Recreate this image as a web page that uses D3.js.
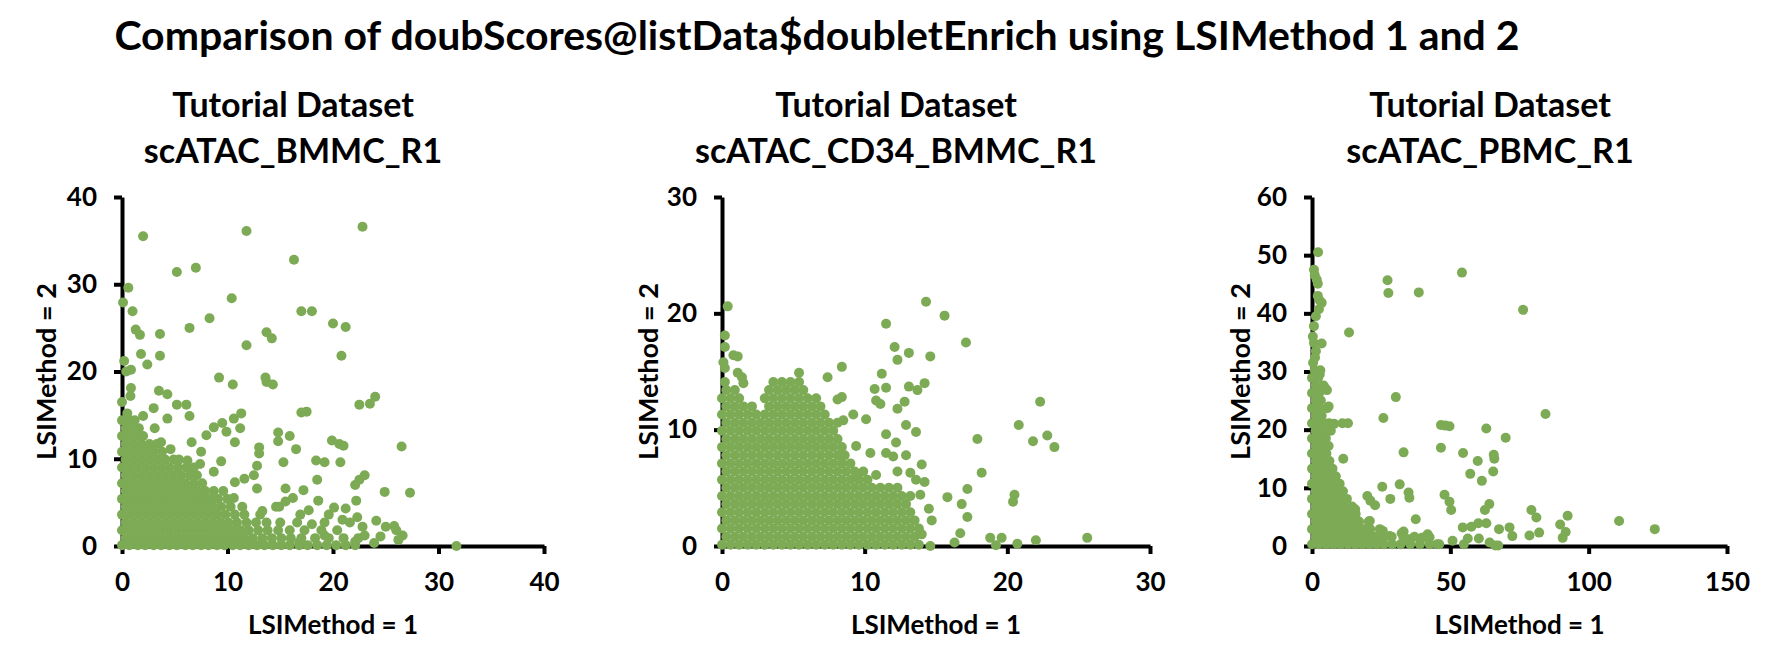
<!DOCTYPE html>
<html>
<head>
<meta charset="utf-8">
<script src="https://cdn.jsdelivr.net/npm/d3@7"></script>
<style>
  html, body { margin: 0; padding: 0; background: #ffffff; }
  svg text { font-family: "Lato", "Open Sans", sans-serif; font-weight: 700; fill: #000; }
</style>
</head>
<body>
<svg id="chart" width="1776" height="664"></svg>
<script>
// ---------- text ----------
const mainTitle = "Comparison of doubScores@listData$doubletEnrich using LSIMethod 1 and 2";
const panelTitleTop = "Tutorial Dataset";
const panelNames = ["scATAC_BMMC_R1", "scATAC_CD34_BMMC_R1", "scATAC_PBMC_R1"];
const xAxisTitle = "LSIMethod = 1";
const yAxisTitle = "LSIMethod = 2";

// ---------- tick labels ----------
const bmmcTicksX = [0, 10, 20, 30, 40];
const bmmcTicksY = [0, 10, 20, 30, 40];
const cd34TicksX = [0, 10, 20, 30];
const cd34TicksY = [0, 10, 20, 30];
const pbmcTicksX = [0, 50, 100, 150];
const pbmcTicksY = [0, 10, 20, 30, 40, 50, 60];

// ---------- data: scATAC_BMMC_R1 ----------
// dense cloud, rows of [LSIMethod2 value, [LSIMethod1 values]]
const bmmcDense = [
  [0.1, [0,0.7,1.5,2.2,3,3.7,4.5,5.2,6,6.7,7.5,8.2,9,9.7,10.5,11.2,12,12.8,13.5,14.3,15.1,15.9,16.8,17.6,18.5,19.4,20.3,21.2,22.1]],
  [0.9, [0.35,1.1,1.85,2.6,3.35,4.1,4.85,5.6,6.35,7.1,7.85,8.6,9.35,10.1,10.85,11.6,12.4,13.3,14.2,15.1,16,17,18.3,19.6,21,22.4]],
  [1.8, [0,0.75,1.5,2.25,3,3.75,4.5,5.25,6,6.75,7.5,8.25,9,9.75,10.5,11.25,12,12.9,13.8,14.8,15.9,17.3,18.9,20.4]],
  [2.7, [0.35,1.1,1.85,2.6,3.35,4.1,4.85,5.6,6.35,7.1,7.85,8.6,9.35,10.1,10.9,11.8,12.7,13.7,15,16.6,19.2,21.6]],
  [3.6, [0,0.75,1.5,2.25,3,3.75,4.5,5.25,6,6.75,7.5,8.25,9,9.8,10.7,11.6,13.1,16.9,19.6]],
  [4.5, [0.35,1.1,1.85,2.6,3.35,4.1,4.85,5.6,6.35,7.1,7.85,8.6,9.4,10.3,11.4,14.6]],
  [5.4, [0,0.75,1.5,2.25,3,3.75,4.5,5.25,6,6.75,7.5,8.3,9.1,10]],
  [6.3, [0.35,1.1,1.85,2.6,3.35,4.1,4.85,5.6,6.35,7.1,7.9,8.7]],
  [7.2, [0,0.75,1.5,2.25,3,3.75,4.5,5.25,6,6.8,7.6]],
  [8.1, [0.35,1.1,1.85,2.6,3.35,4.1,4.85,5.6,6.4,7.1]],
  [9.0, [0,0.75,1.5,2.25,3,3.75,4.5,5.3,6.1,6.8]],
  [9.9, [0.35,1.1,1.85,2.6,3.35,4.1,4.9,5.4]],
  [10.8, [0,0.75,1.5,2.25,3,3.8]],
  [11.7, [0.35,1.1,1.85,2.6,3.3]],
  [12.6, [0,0.75,1.5,2]],
  [13.5, [0.35,1.1,1.6]],
  [14.4, [0,0.7,1.2]]
];
// scattered points, [LSIMethod1, LSIMethod2]
const bmmcScatter = [
  [2.0,35.5],[11.8,36.1],[22.8,36.6],[16.3,32.8],[5.2,31.4],[7.0,31.9],[0.6,29.6],[0.1,27.9],[1.0,26.9],[10.4,28.4],
  [8.3,26.1],[17.0,26.9],[18.0,26.9],[20.0,25.5],[21.2,25.1],[6.4,25.0],[1.3,24.8],[1.7,24.2],[3.6,24.3],[13.7,24.5],
  [14.2,23.8],[11.8,23.0],[20.8,21.8],[1.8,22.0],[3.6,21.8],[2.4,20.8],[0.2,21.2],[0.4,20.0],[0.85,20.2],[9.2,19.3],
  [10.5,18.5],[13.6,19.3],[13.7,18.8],[14.3,18.5],[0.85,18.1],[0.8,17.2],[0.0,16.5],[3.5,17.8],[4.3,17.4],[5.2,16.2],
  [6.1,16.2],[6.4,14.9],[3.0,15.8],[22.5,16.2],[23.5,16.3],[24.0,17.1],[17.0,15.3],[17.5,15.4],[2.0,14.9],[0.5,15.2],
  [4.3,14.6],[3.1,13.5],[9.5,14.1],[10.6,14.6],[11.3,15.2],[11.2,13.5],[8.7,13.6],[8.0,12.7],[9.9,13.1],[14.8,13.0],
  [15.9,12.6],[14.8,12.0],[6.6,11.9],[10.7,11.9],[19.9,12.1],[20.6,11.7],[21.0,11.5],[26.5,11.4],[13.0,11.3],[13.0,10.6],
  [16.5,11.1],[7.5,10.8],[4.6,11.1],[3.7,11.9],[18.4,9.8],[19.2,9.6],[20.7,9.6],[15.3,9.6],[12.8,9.2],[12.5,8.1],
  [9.4,9.7],[8.7,8.5],[6.2,9.8],[7.4,9.4],[23.0,8.1],[22.5,7.6],[22.1,7.0],[18.5,7.6],[11.6,7.7],[10.7,7.3],
  [12.8,6.6],[15.5,6.6],[17.2,6.4],[24.9,6.2],[27.3,6.1],[9.6,6.3],[7.7,6.1],[22.2,5.2],[18.6,5.2],[16.2,5.5],
  [15.5,5.1],[14.9,4.5],[10.6,5.5],[8.3,5.1],[20.1,4.4],[21.2,4.3],[13.3,4.0],[17.7,4.1],[24.1,2.9],[25.0,2.2],
  [25.8,2.3],[26.0,1.8],[26.6,1.2],[26.2,0.7],[31.7,0.0],[22.1,0.5],[23.9,0.35],[20.9,3.0],[22.3,3.3],[22.8,2.2],
  [18.0,2.5],[19.2,1.2],[16.8,0.4],[24.5,1.1],[23.0,1.2]
];

// ---------- data: scATAC_CD34_BMMC_R1 ----------
const cd34Dense = [
  [0.1, [0,0.6,1.2,1.8,2.4,3,3.6,4.2,4.8,5.4,6,6.6,7.2,7.8,8.4,9,9.6,10.2,10.8,11.4,12,12.6,13.2,13.8]],
  [0.8, [0.3,0.9,1.5,2.1,2.7,3.3,3.9,4.5,5.1,5.7,6.3,6.9,7.5,8.1,8.7,9.3,9.9,10.5,11.1,11.7,12.3,12.9,13.5]],
  [1.5, [0,0.6,1.2,1.8,2.4,3,3.6,4.2,4.8,5.4,6,6.6,7.2,7.8,8.4,9,9.6,10.2,10.8,11.4,12,12.6,13.2,13.8]],
  [2.2, [0.3,0.9,1.5,2.1,2.7,3.3,3.9,4.5,5.1,5.7,6.3,6.9,7.5,8.1,8.7,9.3,9.9,10.5,11.1,11.7,12.3,12.9,13.5]],
  [2.9, [0,0.6,1.2,1.8,2.4,3,3.6,4.2,4.8,5.4,6,6.6,7.2,7.8,8.4,9,9.6,10.2,10.8,11.4,12,12.6,13.2]],
  [3.6, [0.3,0.9,1.5,2.1,2.7,3.3,3.9,4.5,5.1,5.7,6.3,6.9,7.5,8.1,8.7,9.3,9.9,10.5,11.1,11.7,12.3,12.9]],
  [4.3, [0,0.6,1.2,1.8,2.4,3,3.6,4.2,4.8,5.4,6,6.6,7.2,7.8,8.4,9,9.6,10.2,10.8,11.4,12,12.6,13.2]],
  [5.0, [0.3,0.9,1.5,2.1,2.7,3.3,3.9,4.5,5.1,5.7,6.3,6.9,7.5,8.1,8.7,9.3,9.9,10.5,11.1,11.7,12.3]],
  [5.7, [0,0.6,1.2,1.8,2.4,3,3.6,4.2,4.8,5.4,6,6.6,7.2,7.8,8.4,9,9.6,10.2]],
  [6.4, [0.3,0.9,1.5,2.1,2.7,3.3,3.9,4.5,5.1,5.7,6.3,6.9,7.5,8.1,8.7,9.3,9.9]],
  [7.1, [0,0.6,1.2,1.8,2.4,3,3.6,4.2,4.8,5.4,6,6.6,7.2,7.8,8.4,9]],
  [7.8, [0.3,0.9,1.5,2.1,2.7,3.3,3.9,4.5,5.1,5.7,6.3,6.9,7.5,8.1,8.6]],
  [8.5, [0,0.6,1.2,1.8,2.4,3,3.6,4.2,4.8,5.4,6,6.6,7.2,7.8,8.4]],
  [9.2, [0.3,0.9,1.5,2.1,2.7,3.3,3.9,4.5,5.1,5.7,6.3,6.9,7.5,8.1]],
  [9.9, [0,0.6,1.2,1.8,2.4,3,3.6,4.2,4.8,5.4,6,6.6,7.2,7.8]],
  [10.6, [0.3,0.9,1.5,2.1,2.7,3.3,3.9,4.5,5.1,5.7,6.3,6.9,7.5,8.1]],
  [11.3, [0,0.6,1.2,1.8,2.4,3,3.6,4.2,4.8,5.4,6,6.6,7.2]],
  [12.0, [0.3,0.9,1.5,2.1,3.3,3.9,4.5,5.1,5.7,6.3,6.9]],
  [12.7, [0,0.6,1.2,3,3.6,4.2,4.8,5.4,6,6.6]],
  [13.4, [0.3,0.9,3.3,3.9,4.5,5.1,5.7]],
  [14.1, [0.2,3.6,4.2,4.8,5.4]]
];
const cd34Scatter = [
  [0.4,20.6],[0.2,18.1],[0.2,17.1],[0.1,15.8],[0.2,15.3],[0.8,16.4],[1.1,16.3],[1.1,14.9],[1.4,14.5],[1.5,14.0],
  [14.3,21.0],[15.6,19.8],[11.5,19.1],[17.1,17.5],[12.1,17.1],[13.1,16.6],[12.3,16.0],[14.6,16.3],[8.4,15.4],[5.4,14.9],
  [7.4,14.5],[11.2,14.8],[14.2,14.0],[10.7,13.5],[11.5,13.6],[13.1,13.7],[13.7,13.4],[8.4,12.8],[8.1,12.6],[10.8,12.5],
  [11.1,12.2],[12.8,12.4],[12.3,11.8],[22.3,12.4],[9.2,11.3],[10.1,10.9],[8.5,10.8],[12.9,10.4],[13.6,9.8],[20.8,10.4],
  [11.5,9.6],[17.9,9.2],[21.8,9.0],[22.8,9.5],[23.3,8.5],[12.2,8.9],[9.4,8.6],[10.4,8.0],[11.5,8.0],[12.0,7.7],
  [12.9,7.8],[14.0,7.0],[12.3,6.4],[13.2,6.3],[9.5,6.1],[10.8,6.1],[14.2,5.5],[18.2,6.3],[17.2,4.9],[15.8,4.2],
  [14.5,3.2],[14.7,2.2],[16.8,3.6],[17.2,2.5],[20.5,4.4],[20.4,3.8],[16.7,1.1],[16.3,0.3],[18.8,0.7],[19.2,0.06],
  [19.6,0.7],[20.7,0.2],[22.0,0.5],[25.6,0.7],[14.6,0],[14.0,1.0],[13.9,4.4],[13.6,5.7]
];

// ---------- data: scATAC_PBMC_R1 ----------
const pbmcDense = [
  [0.3, [0,2.6,5.2,7.8,10.4,13,15.6,18.2,20.8,23.4,26,29,32,35.5,39,42.5,46]],
  [1.6, [1.3,3.9,6.5,9.1,11.7,14.3,16.9,19.5,22.5,25.5,28.8,33,37,41]],
  [2.9, [0,2.6,5.2,7.8,10.4,13,15.6,18.2,21,24.5]],
  [4.2, [1.3,3.9,6.5,9.1,11.7,14.3,17,20.5]],
  [5.5, [0,2.6,5.2,7.8,10.4,13,15.8]],
  [6.8, [1.3,3.9,6.5,9.1,11.7,14.5]],
  [8.1, [0,2.6,5.2,7.8,10.4,12.6]],
  [9.4, [1.3,3.9,6.5,9.1,11.2]],
  [10.7, [0,2.6,5.2,7.8,10]],
  [12.0, [1.3,3.9,6.5,8.6]],
  [13.3, [0,2.6,5.2,7.4]],
  [14.6, [1.3,3.9,6.3]],
  [15.9, [0,2.6,5.2]],
  [17.2, [1.3,3.9,6]],
  [18.5, [0,2.6,5]],
  [19.8, [1.3,3.9,6.8]],
  [21.1, [0,2.6,4.5]],
  [22.4, [1.3,3.5]],
  [23.7, [0,2.6,5.5]],
  [25.0, [1.3,3.2]],
  [26.3, [0,2.6]],
  [27.6, [1.3,4.2]],
  [28.9, [0,2.2]],
  [30.2, [1.0,3.0]],
  [31.5, [0.4]]
];
const pbmcScatter = [
  [2.2,50.5],[0.7,47.5],[1.0,46.6],[1.7,45.8],[2.1,45.1],[27.3,45.7],[27.6,43.5],[38.6,43.6],[54.2,47.0],[76.3,40.6],
  [13.4,36.7],[2.1,43.0],[2.8,42.2],[3.5,41.8],[2.5,40.7],[1.4,39.5],[0.7,37.8],[0.3,36.0],[0.7,34.9],[3.5,34.8],
  [1.4,33.5],[1.1,32.4],[2.1,30.1],[2.8,29.5],[30.3,25.6],[84.4,22.7],[25.8,22.0],[46.6,20.8],[48.2,20.7],[49.7,20.6],
  [63.0,20.2],[70.0,18.6],[11.3,15.0],[46.6,16.9],[33.1,16.1],[54.6,16.0],[59.9,14.6],[65.7,15.7],[65.9,15.0],[57.2,12.4],
  [65.5,12.8],[61.4,11.2],[31.7,10.6],[25.4,10.2],[34.9,9.2],[35.2,8.3],[28.3,8.1],[20.0,8.6],[21.1,7.8],[22.8,7.0],
  [47.9,8.8],[49.7,7.6],[50.3,6.2],[64.1,7.2],[62.5,6.2],[79.3,6.2],[81.1,4.9],[92.4,5.2],[89.7,3.7],[91.7,2.4],
  [90.6,1.4],[111.0,4.3],[123.9,2.9],[37.5,4.6],[54.5,3.2],[57.6,3.3],[60.1,3.9],[63.0,3.9],[67.6,2.9],[71.4,3.2],
  [72.4,1.7],[78.6,1.8],[82.1,2.3],[60.3,1.3],[50.8,0.9],[54.9,0.3],[56.3,1.3],[64.2,0.6],[66.2,0.1],[67.3,0.1],
  [15.6,6.3],[12.6,5.2],[20.9,4.3],[18.9,2.9],[25.6,2.6],[32.4,2.2],[34.5,1.2],[39.7,1.4],[41.8,2.0],[45.2,0.3],
  [6.2,21.1],[11.0,21.1],[13.0,21.1],[8.0,21.0],[6.0,24.0],[5.4,26.8],[4.8,27.1],[33.1,2.5],[42.5,1.5],[28,1.7],[23.6,0.9]
];

// ---------- layout ----------
const pointColor = "#7dab55";
const panels = [
  { name: panelNames[0], dense: bmmcDense, scatter: bmmcScatter, tx: bmmcTicksX, ty: bmmcTicksY,
    left: 122, right: 544, titleX: 293, yTitleX: 47 },
  { name: panelNames[1], dense: cd34Dense, scatter: cd34Scatter, tx: cd34TicksX, ty: cd34TicksY,
    left: 722, right: 1150, titleX: 896, yTitleX: 649 },
  { name: panelNames[2], dense: pbmcDense, scatter: pbmcScatter, tx: pbmcTicksX, ty: pbmcTicksY,
    left: 1312, right: 1727, titleX: 1490, yTitleX: 1241 }
];
const plotTop = 197, plotBottom = 546;

const svg = d3.select("#chart");
svg.append("rect").attr("width", 1776).attr("height", 664).attr("fill", "#fff");

svg.append("text")
  .attr("x", 817).attr("y", 50)
  .attr("text-anchor", "middle")
  .style("font-size", "41px")
  .text(mainTitle);

panels.forEach(p => {
  const x = d3.scaleLinear().domain([p.tx[0], p.tx[p.tx.length - 1]]).range([p.left, p.right]);
  const y = d3.scaleLinear().domain([p.ty[0], p.ty[p.ty.length - 1]]).range([plotBottom, plotTop]);
  const g = svg.append("g");

  g.append("text").attr("x", p.titleX).attr("y", 117).attr("text-anchor", "middle")
    .style("font-size", "34px").text(panelTitleTop);
  g.append("text").attr("x", p.titleX).attr("y", 163).attr("text-anchor", "middle")
    .style("font-size", "34px").text(p.name);

  const yAxis = g.append("g").attr("transform", `translate(${p.left},0)`)
    .call(d3.axisLeft(y).tickValues(p.ty).tickSize(8).tickSizeOuter(0).tickPadding(17).tickFormat(d3.format("d")));
  const xAxis = g.append("g").attr("transform", `translate(0,${plotBottom})`)
    .call(d3.axisBottom(x).tickValues(p.tx).tickSize(8).tickSizeOuter(0).tickPadding(19).tickFormat(d3.format("d")));
  [yAxis, xAxis].forEach(a => {
    a.select(".domain").attr("stroke", "#000").attr("stroke-width", 4);
    a.selectAll(".tick line").attr("stroke", "#000").attr("stroke-width", 4);
    a.selectAll(".tick text").style("font-size", "26px").style("font-family", "Lato, sans-serif").style("font-weight", 700).attr("fill", "#000");
  });

  g.append("text").attr("x", (p.left + p.right) / 2).attr("y", 634).attr("text-anchor", "middle")
    .style("font-size", "26px").text(xAxisTitle);
  g.append("text").attr("transform", `translate(${p.yTitleX},${(plotTop + plotBottom) / 2}) rotate(-90)`)
    .attr("text-anchor", "middle").attr("dy", "0.35em")
    .style("font-size", "27px").text(yAxisTitle);

  const pts = p.dense.flatMap(([yv, xs]) => xs.map(xv => [xv, yv])).concat(p.scatter);
  g.append("g").selectAll("circle").data(pts).join("circle")
    .attr("cx", d => x(d[0])).attr("cy", d => y(d[1])).attr("r", 5)
    .attr("fill", pointColor);
});
</script>
</body>
</html>
